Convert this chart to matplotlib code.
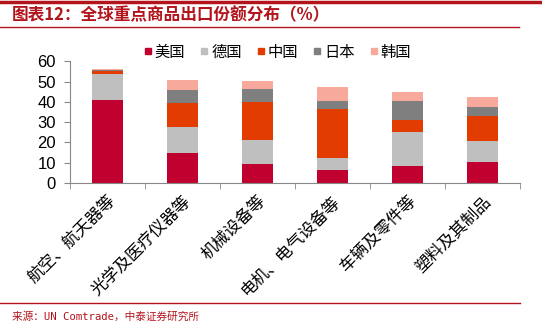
import numpy as np
import matplotlib
matplotlib.use('Agg')
import matplotlib.pyplot as plt
from matplotlib.lines import Line2D

plt.rcParams['font.family'] = ['Liberation Sans', 'Noto Sans CJK SC', 'DejaVu Sans']

# data (%)
categories = ['航空、航天器等', '光学及医疗仪器等', '机械设备等',
              '电机、电气设备等', '车辆及零件等', '塑料及其制品']
countries = ['美国', '德国', '中国', '日本', '韩国']
us = [41.1, 14.8, 9.5, 6.6, 8.2, 10.2]
de = [12.7, 12.8, 11.9, 5.9, 17.1, 10.5]
cn = [1.7, 11.9, 18.7, 24.2, 5.6, 12.2]
jp = [0.3, 6.5, 6.4, 3.9, 9.7, 4.4]
kr = [0.7, 4.6, 3.6, 6.6, 4.4, 5.3]

colors = ['#C0002F', '#BFBFBF', '#E23C00', '#7F7F7F', '#F7A99C']
red = '#B3141C'

fig = plt.figure(figsize=(5.42, 3.25), dpi=100)
ax = fig.add_axes([0.129, 0.437, 0.83, 0.374])

x = np.arange(len(categories))
bottom = np.zeros(len(categories))
for name, vals, c in zip(countries, [us, de, cn, jp, kr], colors):
    ax.bar(x, vals, 0.41, bottom=bottom, color=c, label=name)
    bottom += np.array(vals)

ax.set_xlim(-0.5, len(categories) - 0.5)
ax.set_ylim(0, 60)
ax.set_yticks(range(0, 61, 10))
ax.tick_params(axis='y', labelsize=12, length=4, color='#888888', pad=6)
ax.set_xticks(x)
ax.set_xticklabels(categories, rotation=45, ha='right', va='top',
                   rotation_mode='anchor', fontsize=12,
                   family=['Noto Sans CJK SC'])
ax.tick_params(axis='x', length=0, pad=7)
# boundary ticks between categories
ax.set_xticks(np.arange(-0.5, len(categories)), minor=True)
ax.tick_params(axis='x', which='minor', length=4, color='#888888')
for s in ['top', 'right']:
    ax.spines[s].set_visible(False)
for s in ['left', 'bottom']:
    ax.spines[s].set_color('#888888')

handles = [Line2D([], [], marker='s', ls='', color=c, markersize=4.5) for c in colors]
fig.legend(handles, countries, loc='center', bbox_to_anchor=(0.512, 0.84),
           ncol=5, frameon=False, handlelength=0.5, handletextpad=0.2,
           columnspacing=1.0, prop={'family': ['Noto Sans CJK SC'], 'size': 11})

# header / footer
fig.add_artist(Line2D([0, 1], [0.995, 0.995], color=red, lw=2.5))
fig.add_artist(Line2D([0, 0.957], [0.917, 0.917], color=red, lw=1))
fig.add_artist(Line2D([0, 0.96], [0.069, 0.069], color=red, lw=1))
fig.text(0.022, 0.953, '图表12：全球重点商品出口份额分布（%）', color=red,
         fontsize=12, fontweight='bold', style='italic', va='center',
         family=['Noto Sans CJK SC'])
fig.text(0.022, 0.026, '来源：UN Comtrade，中泰证券研究所', color=red,
         fontsize=7.7, va='center', family=['DejaVu Sans Mono', 'Noto Sans CJK SC'])

fig.savefig('out.png', dpi=100)
